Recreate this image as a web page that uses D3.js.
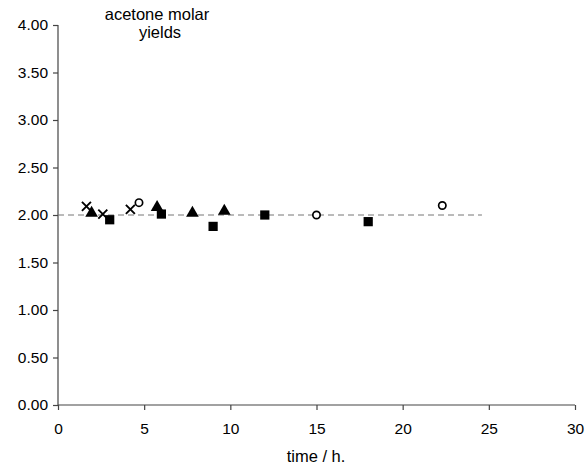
<!DOCTYPE html>
<html>
<head>
<meta charset="utf-8">
<script src="https://cdn.jsdelivr.net/npm/d3@7"></script>
<style>
  body { margin: 0; background: #fff; }
  text { font-family: "Liberation Sans", Arial, sans-serif; }
</style>
</head>
<body>
<svg id="chart" width="587" height="464"></svg>
<script>
// series: [time / h, molar yield]
var crosses   = [[1.65, 2.09], [2.6, 2.01], [4.2, 2.06]];
var triangles = [[1.95, 2.02], [5.75, 2.08], [7.8, 2.02], [9.65, 2.04]];
var squares   = [[3.0, 1.95], [6.0, 2.01], [9.0, 1.88], [12.0, 2.00], [18.0, 1.93]];
var circles   = [[4.7, 2.13], [15.0, 2.00], [22.3, 2.10]];
var refLine   = [[0, 2.0], [24.6, 2.0]];
var xTicks = [0, 5, 10, 15, 20, 25, 30];
var yTicks = [0, 0.5, 1, 1.5, 2, 2.5, 3, 3.5, 4];

var svg = d3.select("#chart");
var x = d3.scaleLinear().domain([0, 30]).range([58, 575]);
var y = d3.scaleLinear().domain([0, 4]).range([405, 25]);

var xAxis = svg.append("g")
    .attr("transform", "translate(0," + y(0) + ")")
    .call(d3.axisBottom(x).tickValues(xTicks).tickSize(5).tickPadding(13));
var yAxis = svg.append("g")
    .attr("transform", "translate(" + x(0) + ",0)")
    .call(d3.axisLeft(y).tickValues(yTicks).tickSize(5).tickPadding(5)
      .tickFormat(d3.format(".2f")));

[xAxis, yAxis].forEach(function(a) {
  a.selectAll("path, line").attr("stroke", "#444").attr("stroke-width", 1.2);
  a.selectAll("text").style("font-size", "15.5px").attr("fill", "#000");
});
xAxis.select(".domain").attr("d", "M" + x(0) + ",0H" + x(30));
yAxis.select(".domain").attr("d", "M0," + y(4) + "V" + y(0));

svg.append("path")
    .datum(refLine)
    .attr("d", d3.line().x(d => x(d[0])).y(d => y(d[1])))
    .attr("stroke", "#777")
    .attr("stroke-width", 1)
    .attr("stroke-dasharray", "6,4")
    .attr("fill", "none");

function drawSymbols(data, type, size, filled) {
  svg.append("g").selectAll("path")
    .data(data)
    .enter().append("path")
    .attr("transform", d => "translate(" + x(d[0]) + "," + y(d[1]) + ")")
    .attr("d", d3.symbol().type(type).size(size))
    .attr("fill", filled ? "#000" : "#fff")
    .attr("stroke", "#000")
    .attr("stroke-width", filled ? 0 : 1.7);
}
drawSymbols(squares, d3.symbolSquare, 85, true);
drawSymbols(triangles, d3.symbolTriangle, 70, true);
drawSymbols(circles, d3.symbolCircle, 42, false);

svg.append("g").selectAll("path")
  .data(crosses)
  .enter().append("path")
  .attr("transform", d => "translate(" + x(d[0]) + "," + y(d[1]) + ")")
  .attr("d", "M-4.5,-4.5L4.5,4.5M-4.5,4.5L4.5,-4.5")
  .attr("stroke", "#000")
  .attr("stroke-width", 1.9);

svg.append("text")
    .attr("x", 157).attr("y", 20)
    .attr("text-anchor", "middle")
    .style("font-size", "16.5px")
    .text("acetone molar");
svg.append("text")
    .attr("x", 160).attr("y", 38)
    .attr("text-anchor", "middle")
    .style("font-size", "16.5px")
    .text("yields");

svg.append("text")
    .attr("x", 316).attr("y", 462)
    .attr("text-anchor", "middle")
    .style("font-size", "16.5px")
    .text("time / h.");
</script>
</body>
</html>
